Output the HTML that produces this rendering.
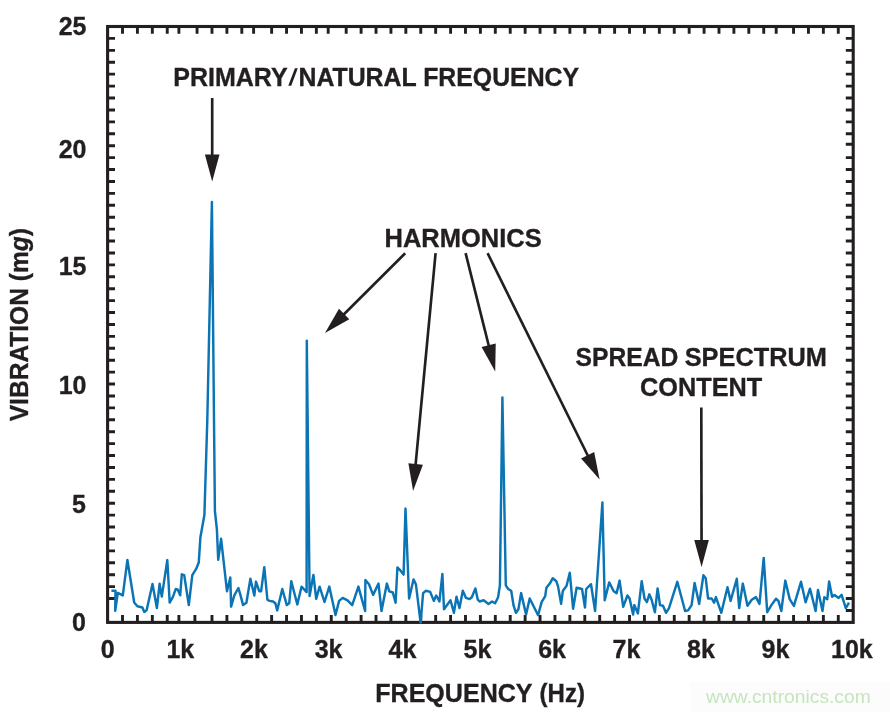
<!DOCTYPE html>
<html><head><meta charset="utf-8"><style>
html,body{margin:0;padding:0;background:#fff;}
body{width:890px;height:712px;overflow:hidden;position:relative;font-family:"Liberation Sans",sans-serif;}
svg{position:absolute;left:0;top:0;will-change:transform;}
text{font-family:"Liberation Sans",sans-serif;font-weight:bold;fill:#231f20;stroke:#231f20;stroke-width:0.35px;}
</style></head><body>
<svg width="890" height="712" viewBox="0 0 890 712">
<rect x="690" y="682" width="200" height="30" fill="#fcfcfc"/>
<rect x="107.6" y="26.5" width="745.60" height="595.90" fill="none" stroke="#231f20" stroke-width="3.1"/>
<path d="M122.51 622.40V615.10M122.51 26.50V33.80M137.42 622.40V615.10M137.42 26.50V33.80M152.34 622.40V615.10M152.34 26.50V33.80M167.25 622.40V615.10M167.25 26.50V33.80M178.90 622.40V615.10M178.90 26.50V33.80M194.90 622.40V615.10M197.07 26.50V33.80M211.98 622.40V615.10M211.98 26.50V33.80M226.90 622.40V615.10M226.90 26.50V33.80M241.81 622.40V615.10M241.81 26.50V33.80M256.72 622.40V615.10M253.60 26.50V33.80M271.63 622.40V615.10M271.63 26.50V33.80M286.54 622.40V615.10M286.54 26.50V33.80M301.46 622.40V615.10M301.46 26.50V33.80M316.37 622.40V615.10M316.37 26.50V33.80M331.28 622.40V615.10M328.20 26.50V33.80M346.19 622.40V615.10M346.19 26.50V33.80M361.10 622.40V615.10M361.10 26.50V33.80M376.02 622.40V615.10M376.02 26.50V33.80M390.93 622.40V615.10M390.93 26.50V33.80M405.84 622.40V615.10M405.84 26.50V33.80M420.75 622.40V615.10M420.75 26.50V33.80M435.66 622.40V615.10M435.66 26.50V33.80M450.58 622.40V615.10M450.58 26.50V33.80M465.49 622.40V615.10M465.49 26.50V33.80M480.40 622.40V615.10M480.40 26.50V33.80M495.31 622.40V615.10M495.31 26.50V33.80M510.22 622.40V615.10M510.22 26.50V33.80M525.14 622.40V615.10M525.14 26.50V33.80M540.05 622.40V615.10M540.05 26.50V33.80M554.96 622.40V615.10M554.96 26.50V33.80M569.87 622.40V615.10M569.87 26.50V33.80M584.78 622.40V615.10M584.78 26.50V33.80M599.70 622.40V615.10M599.70 26.50V33.80M614.61 622.40V615.10M614.61 26.50V33.80M629.52 622.40V615.10M629.52 26.50V33.80M644.43 622.40V615.10M644.43 26.50V33.80M659.34 622.40V615.10M659.34 26.50V33.80M674.26 622.40V615.10M674.26 26.50V33.80M689.17 622.40V615.10M689.17 26.50V33.80M704.08 622.40V615.10M704.08 26.50V33.80M718.99 622.40V615.10M718.99 26.50V33.80M733.90 622.40V615.10M733.90 26.50V33.80M748.82 622.40V615.10M748.82 26.50V33.80M763.73 622.40V615.10M763.73 26.50V33.80M778.64 622.40V615.10M776.20 26.50V33.80M793.55 622.40V615.10M793.55 26.50V33.80M808.46 622.40V615.10M808.46 26.50V33.80M823.38 622.40V615.10M823.38 26.50V33.80M838.29 622.40V615.10M838.29 26.50V33.80M107.60 38.42H115.00M853.20 38.42H845.80M107.60 50.34H115.00M853.20 50.34H845.80M107.60 62.25H115.00M853.20 62.25H845.80M107.60 74.17H115.00M853.20 74.17H845.80M107.60 86.09H115.00M853.20 86.09H845.80M107.60 98.01H115.00M853.20 98.01H845.80M107.60 109.93H115.00M853.20 109.93H845.80M107.60 121.84H115.00M853.20 121.84H845.80M107.60 133.76H115.00M853.20 133.76H845.80M107.60 145.68H115.00M853.20 144.30H845.80M107.60 157.60H115.00M853.20 157.60H845.80M107.60 169.52H115.00M853.20 169.52H845.80M107.60 181.43H115.00M853.20 181.43H845.80M107.60 193.35H115.00M853.20 193.35H845.80M107.60 205.27H115.00M853.20 205.27H845.80M107.60 217.19H115.00M853.20 217.19H845.80M107.60 229.11H115.00M853.20 229.11H845.80M107.60 241.02H115.00M853.20 241.02H845.80M107.60 252.94H115.00M853.20 252.94H845.80M107.60 264.86H115.00M853.20 264.86H845.80M107.60 276.78H115.00M853.20 276.78H845.80M107.60 288.70H115.00M853.20 288.70H845.80M107.60 300.61H115.00M853.20 300.61H845.80M107.60 312.53H115.00M853.20 312.53H845.80M107.60 324.45H115.00M853.20 324.45H845.80M107.60 336.37H115.00M853.20 336.37H845.80M107.60 348.29H115.00M853.20 348.29H845.80M107.60 360.20H115.00M853.20 360.20H845.80M107.60 372.12H115.00M853.20 372.12H845.80M107.60 384.04H115.00M853.20 384.04H845.80M107.60 395.96H115.00M853.20 395.96H845.80M107.60 407.88H115.00M853.20 407.88H845.80M107.60 419.79H115.00M853.20 419.79H845.80M107.60 431.71H115.00M853.20 431.71H845.80M107.60 443.63H115.00M853.20 443.63H845.80M107.60 455.55H115.00M853.20 455.55H845.80M107.60 467.47H115.00M853.20 467.47H845.80M107.60 479.38H115.00M853.20 479.38H845.80M107.60 491.30H115.00M853.20 491.30H845.80M107.60 503.22H115.00M853.20 503.22H845.80M107.60 515.14H115.00M853.20 515.14H845.80M107.60 527.06H115.00M853.20 527.06H845.80M107.60 538.97H115.00M853.20 538.97H845.80M107.60 550.89H115.00M853.20 550.89H845.80M107.60 562.81H115.00M853.20 562.81H845.80M107.60 574.73H115.00M853.20 574.73H845.80M107.60 586.65H115.00M853.20 586.65H845.80M107.60 598.56H115.00M853.20 598.56H845.80M853.20 610.48H845.80" stroke="#231f20" stroke-width="2.9" fill="none"/>
<path d="M111.4 590.8 L115.5 590.8 L115.2 610.7 L117.8 592.9 L122.8 595.4 L127.4 560.0 L134.2 602.5 L137.4 606.2 L142.4 607.5 L144.3 611.9 L146.6 610.3 L152.5 584.0 L156.9 608.0 L159.6 583.8 L161.8 596.6 L167.3 560.1 L169.7 602.6 L172.9 596.9 L175.8 588.9 L177.8 589.7 L180.2 595.3 L181.8 574.3 L184.2 575.1 L188.8 605.0 L192.3 575.1 L196.3 568.7 L198.8 562.2 L200.4 537.2 L204.4 515.0 L207.3 420.0 L211.9 202.0 L214.0 420.0 L214.9 511.0 L216.9 529.6 L218.2 559.8 L221.1 538.8 L227.0 591.3 L230.3 577.5 L231.1 606.6 L234.3 595.3 L238.4 588.0 L240.4 594.9 L243.1 605.1 L246.4 602.7 L250.4 578.8 L254.3 595.5 L256.0 581.6 L259.3 591.3 L261.1 591.3 L264.3 567.2 L267.4 599.7 L269.5 600.9 L273.1 601.5 L275.4 603.3 L277.2 610.4 L282.3 589.0 L286.8 605.1 L289.2 603.3 L291.3 581.2 L297.3 604.5 L301.5 586.7 L304.8 590.1 L306.6 592.1 L306.8 340.8 L309.6 596.0 L313.4 574.9 L316.2 598.8 L319.6 586.7 L324.5 602.0 L329.3 586.6 L335.5 615.0 L339.1 600.9 L342.7 597.9 L347.5 600.3 L352.2 605.1 L358.4 586.6 L365.1 611.0 L365.4 580.0 L369.0 584.2 L373.1 594.9 L378.5 583.6 L381.5 611.0 L386.9 583.6 L389.3 591.3 L392.8 592.5 L395.6 602.7 L397.4 567.5 L400.4 570.4 L403.6 574.6 L405.5 508.6 L409.1 598.5 L413.5 579.4 L415.9 584.2 L420.6 622.6 L423.1 593.1 L426.0 590.7 L430.2 591.9 L433.8 600.9 L436.2 595.5 L439.4 601.5 L442.4 574.0 L444.0 609.3 L450.5 600.3 L453.9 612.8 L456.5 596.7 L459.5 608.1 L462.8 590.7 L466.0 597.9 L469.6 599.1 L471.8 597.3 L475.4 588.4 L477.8 599.7 L479.6 601.5 L483.7 600.3 L488.5 603.9 L492.1 601.5 L495.1 603.3 L498.1 597.3 L499.9 585.4 L502.4 397.4 L505.8 585.4 L508.2 589.0 L511.2 590.7 L513.6 605.7 L516.0 612.8 L518.4 609.3 L521.1 593.1 L526.1 614.6 L529.7 598.5 L538.1 615.2 L541.6 602.1 L545.2 596.1 L546.4 587.8 L549.8 583.6 L552.8 578.2 L556.3 581.2 L558.1 586.6 L561.1 603.9 L562.9 590.7 L566.5 586.0 L569.8 572.8 L573.1 608.7 L576.6 587.8 L582.0 589.0 L585.0 607.5 L586.2 589.0 L591.0 584.2 L595.1 611.0 L602.4 502.5 L604.7 600.3 L609.2 582.4 L613.7 591.3 L616.6 593.1 L619.6 580.6 L623.2 606.9 L627.4 595.5 L629.6 598.5 L633.1 614.6 L634.3 605.1 L637.9 613.4 L641.7 581.2 L644.5 598.5 L646.9 602.1 L649.3 594.3 L651.6 599.7 L654.9 612.2 L657.6 588.4 L660.0 605.1 L663.0 605.7 L666.0 612.8 L669.0 608.1 L677.3 581.8 L685.1 611.0 L688.1 610.4 L691.6 605.1 L694.6 583.0 L699.2 603.9 L703.4 575.2 L705.7 578.2 L708.1 598.5 L711.7 598.5 L714.1 602.7 L715.9 597.1 L721.3 612.8 L727.5 587.2 L730.6 600.9 L736.8 578.8 L739.2 608.1 L742.8 583.6 L747.5 605.7 L751.7 599.7 L755.9 597.1 L759.5 603.9 L763.7 557.9 L767.2 612.2 L771.4 605.1 L776.0 598.7 L778.4 600.9 L781.3 611.0 L785.3 580.6 L789.7 599.1 L793.9 605.9 L801.0 581.8 L805.6 602.3 L810.0 588.7 L815.6 611.0 L818.0 589.9 L822.5 611.0 L824.3 597.3 L827.3 599.1 L829.1 581.5 L832.1 596.7 L834.5 594.9 L838.6 597.9 L841.6 594.9 L845.8 608.1 L849.0 602.7" stroke="#0b74b5" stroke-width="2.45" fill="none" stroke-linejoin="round"/>
<text transform="translate(86.50 34.70) scale(1.0 1.035)" font-size="25" text-anchor="end">25</text>
<text transform="translate(86.50 157.70) scale(1.0 1.035)" font-size="25" text-anchor="end">20</text>
<text transform="translate(86.50 274.70) scale(1.0 1.035)" font-size="25" text-anchor="end">15</text>
<text transform="translate(86.50 393.80) scale(1.0 1.035)" font-size="25" text-anchor="end">10</text>
<text transform="translate(86.00 513.10) scale(1.0 1.035)" font-size="25" text-anchor="end">5</text>
<text transform="translate(86.00 631.00) scale(1.0 1.035)" font-size="25" text-anchor="end">0</text>
<text transform="translate(107.80 658.00) scale(1.0 1.035)" font-size="25" text-anchor="middle">0</text>
<text transform="translate(180.30 658.00) scale(1.0 1.035)" font-size="25" text-anchor="middle">1k</text>
<text transform="translate(253.90 658.00) scale(1.0 1.035)" font-size="25" text-anchor="middle">2k</text>
<text transform="translate(328.60 658.00) scale(1.0 1.035)" font-size="25" text-anchor="middle">3k</text>
<text transform="translate(402.50 658.00) scale(1.0 1.035)" font-size="25" text-anchor="middle">4k</text>
<text transform="translate(477.50 658.00) scale(1.0 1.035)" font-size="25" text-anchor="middle">5k</text>
<text transform="translate(552.10 658.00) scale(1.0 1.035)" font-size="25" text-anchor="middle">6k</text>
<text transform="translate(626.50 658.00) scale(1.0 1.035)" font-size="25" text-anchor="middle">7k</text>
<text transform="translate(701.00 658.00) scale(1.0 1.035)" font-size="25" text-anchor="middle">8k</text>
<text transform="translate(775.50 658.00) scale(1.0 1.035)" font-size="25" text-anchor="middle">9k</text>
<text transform="translate(851.90 658.00) scale(1.0 1.035)" font-size="25" text-anchor="middle">10k</text>
<text transform="translate(375.30 701.90) scale(1.002 1.035)" font-size="25" text-anchor="start">FREQUENCY</text>
<text transform="translate(539.60 701.90) scale(0.959 1.035)" font-size="25" text-anchor="start">(Hz)</text>
<text transform="translate(27.8 421.3) rotate(-90) scale(0.983 1.035)" font-size="25">VIBRATION (m<tspan font-style="italic">g</tspan>)</text>
<text transform="translate(173.33 85.80) scale(1.0 1.035)" font-size="25" text-anchor="start">PRIMARY</text>
<path d="M288.3 85.8L291.2 85.8L297.8 68.2L294.9 68.2Z" fill="#231f20"/>
<text transform="translate(298.44 85.80) scale(0.9945 1.035)" font-size="25" text-anchor="start">NATURAL FREQUENCY</text>
<text transform="translate(384.50 246.90) scale(1.02 1.035)" font-size="25" text-anchor="start">HARMONICS</text>
<text transform="translate(575.58 365.70) scale(0.987 1.035)" font-size="25" text-anchor="start">SPREAD</text>
<text transform="translate(684.70 365.70) scale(1.014 1.035)" font-size="25" text-anchor="start">SPECTRUM</text>
<text transform="translate(640.00 396.10) scale(1.012 1.035)" font-size="25" text-anchor="start">CONTENT</text>
<path d="M212.20 98.00L212.20 156.40" stroke="#231f20" stroke-width="2.65" fill="none"/>
<path d="M212.20 181.40L204.90 154.40L219.50 154.40Z" fill="#231f20"/>
<path d="M405.20 253.20L342.71 315.46" stroke="#231f20" stroke-width="2.65" fill="none"/>
<path d="M325.00 333.10L338.98 308.87L349.28 319.22Z" fill="#231f20"/>
<path d="M435.60 253.10L415.45 466.01" stroke="#231f20" stroke-width="2.65" fill="none"/>
<path d="M413.10 490.90L408.38 463.33L422.91 464.71Z" fill="#231f20"/>
<path d="M465.60 253.10L489.14 347.25" stroke="#231f20" stroke-width="2.65" fill="none"/>
<path d="M495.20 371.50L481.57 347.08L495.73 343.54Z" fill="#231f20"/>
<path d="M487.60 253.20L588.51 457.00" stroke="#231f20" stroke-width="2.65" fill="none"/>
<path d="M599.60 479.40L581.08 458.44L594.16 451.96Z" fill="#231f20"/>
<path d="M701.30 407.60L701.55 542.00" stroke="#231f20" stroke-width="2.65" fill="none"/>
<path d="M701.60 567.00L694.25 540.01L708.85 539.99Z" fill="#231f20"/>
<text x="706" y="702.8" font-size="19.25" style="font-weight:normal;fill:#c6e5bf;stroke:none">www.cntronics.com</text>
</svg>
</body></html>
